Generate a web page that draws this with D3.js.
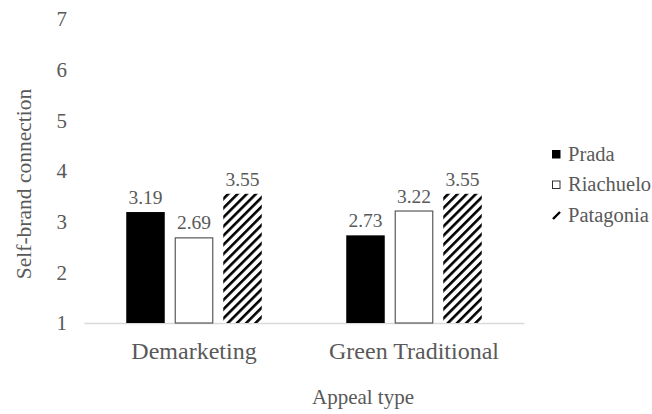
<!DOCTYPE html>
<html>
<head>
<meta charset="utf-8">
<script src="https://cdn.jsdelivr.net/npm/d3@7/dist/d3.min.js"></script>
<style>
  svg#chart text, svg#chart .tick text { font-family: "Liberation Serif" !important; }
</style>
</head>
<body style="margin:0;padding:0;background:#fff;">
<svg id="chart" width="652" height="414"></svg>
<script>
// Appeal types on the x axis
const categories = ["Demarketing", "Green Traditional"];
// Brands shown as grouped bars
const series = ["Prada", "Riachuelo", "Patagonia"];
// Mean self-brand connection, one array per brand (same order as categories)
const prada = [3.19, 2.73];
const riachuelo = [2.69, 3.22];
const patagonia = [3.55, 3.55];
const yTicks = [1, 2, 3, 4, 5, 6, 7];

const values = { Prada: prada, Riachuelo: riachuelo, Patagonia: patagonia };

const TEXT = "#595959";

const svg = d3.select("#chart");
const margin = { left: 84, right: 128, top: 19, bottom: 91 };
const W = 652, H = 414;

const x0 = d3.scaleBand().domain(categories).range([margin.left, W - margin.right]).paddingInner(0).paddingOuter(0);
const y = d3.scaleLinear().domain([1, 7]).range([H - margin.bottom, margin.top]);

const barW = 38.5, gap = 10;
const groupW = series.length * barW + (series.length - 1) * gap;
const x1 = d3.scaleBand().domain(series).range([0, groupW]).paddingInner(gap / (barW + gap)).paddingOuter(0);

// Diagonal hatch fill for Patagonia
const defs = svg.append("defs");
const pat = defs.append("pattern")
  .attr("id", "hatch")
  .attr("patternUnits", "userSpaceOnUse")
  .attr("width", 6.5).attr("height", 6.5)
  .attr("patternTransform", "rotate(45)");
pat.append("rect").attr("width", 6.5).attr("height", 6.5).attr("fill", "#fff");
pat.append("line").attr("x1", 0).attr("y1", 0).attr("x2", 0).attr("y2", 6.5)
  .attr("stroke", "#000").attr("stroke-width", 5.2);

const fills = { Prada: "#000", Riachuelo: "#fff", Patagonia: "url(#hatch)" };
const strokes = { Prada: "#000", Riachuelo: "#595959", Patagonia: "none" };

function styleText(sel, size) {
  sel.attr("font-family", "Liberation Serif")
     .attr("style", `font-family: 'Liberation Serif' !important; font-size: ${size}px; fill: ${TEXT};`);
}

// Y axis: labels only, no line
const yAxis = d3.axisLeft(y).tickValues(yTicks).tickFormat(d3.format("d")).tickSize(0).tickPadding(0);
const yg = svg.append("g").attr("transform", `translate(${margin.left - 17},0)`).call(yAxis);
yg.attr("font-family", "Liberation Serif").attr("font-size", null);
yg.select(".domain").remove();
styleText(yg.selectAll("text"), 21);

// X axis baseline
const xAxis = d3.axisBottom(x0).tickSize(0).tickPadding(0);
const xg = svg.append("g").attr("transform", `translate(0,${y(1)})`).call(xAxis);
xg.attr("font-family", "Liberation Serif").attr("font-size", null);
xg.select(".domain").attr("stroke", "#d9d9d9").attr("stroke-width", 1.3);
styleText(xg.selectAll("text"), 24);
xg.selectAll("text").attr("dy", null).attr("y", 36);

// Bars
const groups = svg.append("g").selectAll("g").data(categories).join("g")
  .attr("transform", d => `translate(${x0(d) + (x0.bandwidth() - groupW) / 2},0)`);

groups.each(function (cat, ci) {
  const g = d3.select(this);
  series.forEach(s => {
    const v = values[s][ci];
    const isOutline = s === "Riachuelo";
    g.append("rect")
      .attr("x", x1(s) + (isOutline ? 0.5 : 0))
      .attr("y", y(v) + (isOutline ? 0.5 : 0))
      .attr("width", x1.bandwidth() - (isOutline ? 1 : 0))
      .attr("height", y(1) - y(v) - (isOutline ? 0.5 : 0))
      .attr("fill", fills[s])
      .attr("stroke", strokes[s])
      .attr("stroke-width", isOutline ? 1.2 : 0);
    g.append("text")
      .attr("x", x1(s) + x1.bandwidth() / 2)
      .attr("y", y(v) - 8)
      .attr("text-anchor", "middle")
      .call(styleText, 19.5)
      .text(v.toFixed(2));
  });
});

// Axis titles
svg.append("text")
  .attr("transform", `translate(31,${(y(1) + y(7)) / 2 + 13}) rotate(-90)`)
  .attr("text-anchor", "middle")
  .call(styleText, 21.5)
  .text("Self-brand connection");

svg.append("text")
  .attr("x", 363)
  .attr("y", 404)
  .attr("text-anchor", "middle")
  .call(styleText, 21)
  .text("Appeal type");

// Legend
const legend = svg.append("g").selectAll("g").data(series).join("g")
  .attr("transform", (d, i) => `translate(552,${150 + i * 30.5})`);
legend.append("rect")
  .attr("x", d => d === "Riachuelo" ? 0.5 : 0)
  .attr("y", d => d === "Riachuelo" ? 0.5 : 0)
  .attr("width", d => d === "Riachuelo" ? 7.5 : 8.5)
  .attr("height", d => d === "Riachuelo" ? 7.5 : 8.5)
  .attr("fill", d => d === "Patagonia" ? "none" : fills[d])
  .attr("stroke", d => d === "Riachuelo" ? "#333" : "none");
// Hatch swatch for Patagonia drawn as a small slash mark
legend.filter(d => d === "Patagonia").append("line")
  .attr("x1", 1).attr("y1", 8).attr("x2", 8).attr("y2", 1)
  .attr("stroke", "#000").attr("stroke-width", 2.4);
legend.append("text")
  .attr("x", 16)
  .attr("y", 10.5)
  .call(styleText, 20.5)
  .text(d => d);
</script>
</body>
</html>
